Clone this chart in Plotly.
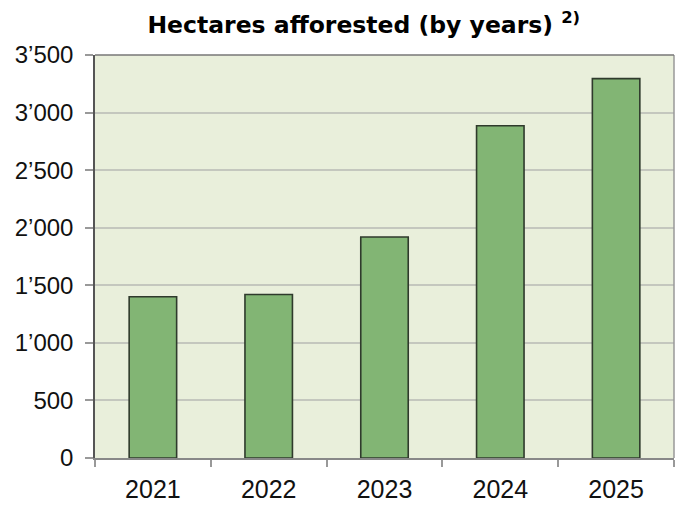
import plotly.graph_objects as go

years = ["2021", "2022", "2023", "2024", "2025"]
hectares = [1400, 1420, 1920, 2885, 3295]
y_ticks = [0, 500, 1000, 1500, 2000, 2500, 3000, 3500]
y_tick_labels = ["0", "500", "1’000", "1’500", "2’000", "2’500", "3’000", "3’500"]

fig = go.Figure()
fig.add_trace(go.Bar(
    x=years, y=hectares,
    marker=dict(color="#82B574", line=dict(color="#2f3a2c", width=1.6)),
    width=0.41,
))

fig.update_layout(
    width=680, height=507,
    margin=dict(l=95, r=6, t=55, b=49, autoexpand=False),
    paper_bgcolor="white",
    plot_bgcolor="#E9EFDB",
    showlegend=False,
    title=dict(
        text="<b>Hectares afforested (by years) <sup>2)</sup></b>",
        x=0.535, xanchor="center", y=0.952, yanchor="middle",
        font=dict(family="DejaVu Sans", size=23.5, color="black"),
    ),
    font=dict(family="Liberation Sans, Arial", color="black"),
)
fig.update_xaxes(
    type="category",
    tickson="boundaries",
    ticks="outside", ticklen=7, tickcolor="#999999", tickwidth=1.5,
    showline=True, linecolor="#888888", linewidth=1.5,
    showgrid=False,
    tickfont=dict(size=25, color="#111111"),
    ticklabelstandoff=8,
    automargin=False,
)
fig.update_yaxes(
    range=[0, 3500],
    tickvals=y_ticks, ticktext=y_tick_labels,
    ticks="outside", ticklen=8, tickcolor="#999999", tickwidth=1.5,
    showline=True, linecolor="#555555", linewidth=1.5,
    showgrid=True, gridcolor="#C4C7BE", gridwidth=1.5,
    zeroline=False,
    tickfont=dict(size=24, color="#111111"),
    ticklabelstandoff=7,
    automargin=False,
)
# right and top border
fig.add_shape(type="line", xref="paper", yref="paper", x0=1, x1=1, y0=0, y1=1,
              line=dict(color="#999999", width=1.5))
fig.add_shape(type="line", xref="paper", yref="paper", x0=0, x1=1, y0=1, y1=1,
              line=dict(color="#777777", width=1.5))

fig.write_html("out.html", config={"displayModeBar": False},
               post_script="document.body.style.margin='0';")
